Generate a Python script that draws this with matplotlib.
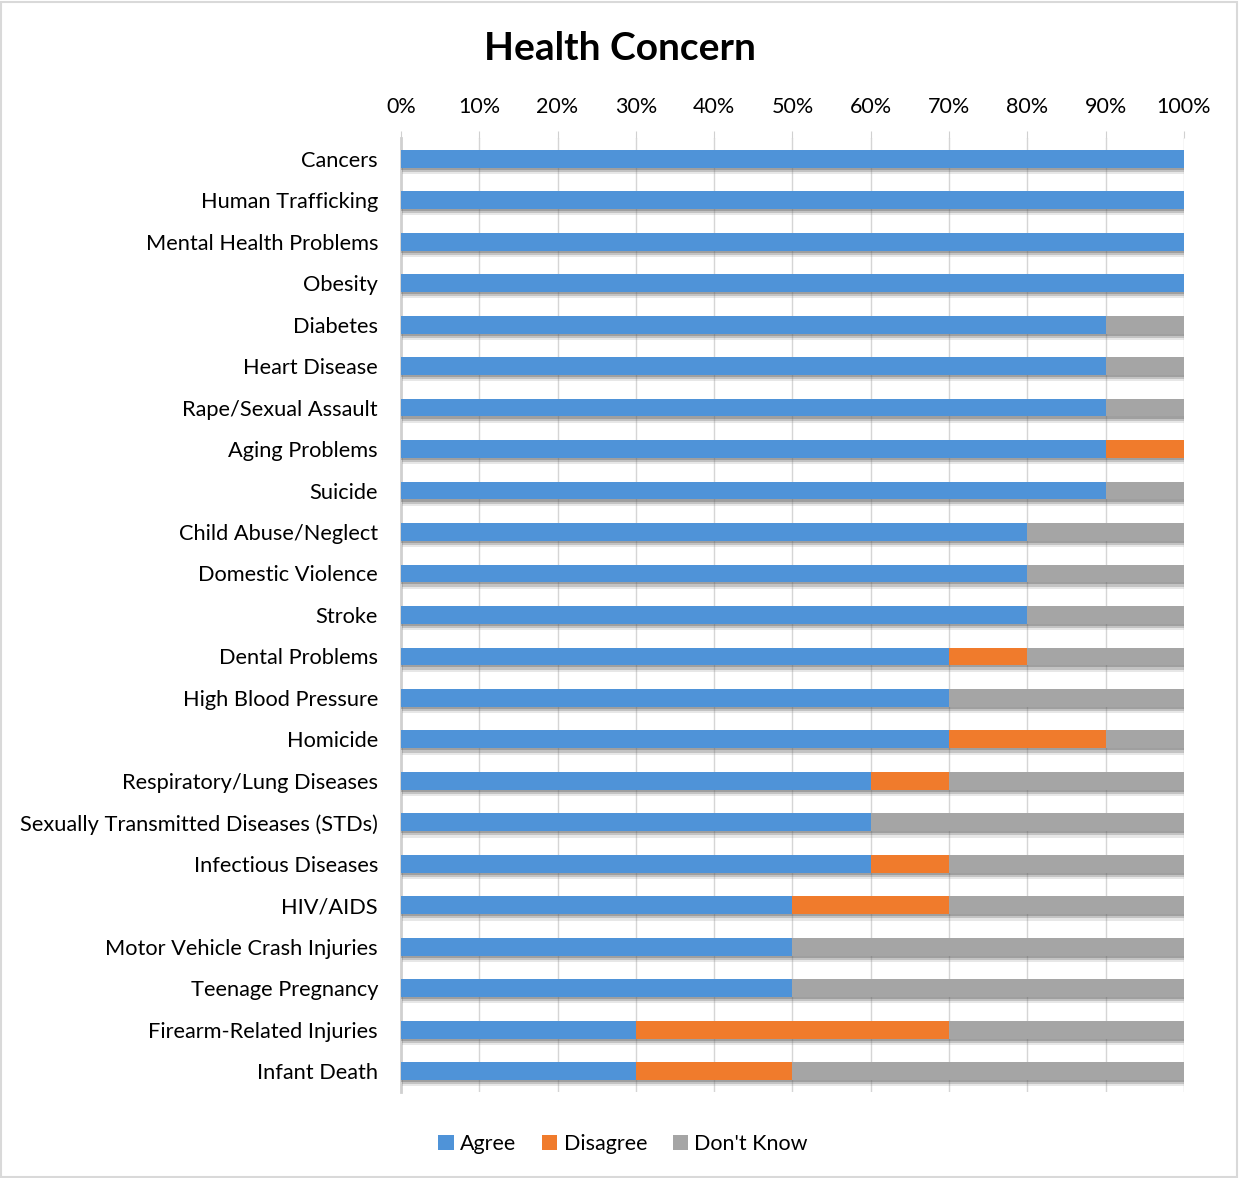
import matplotlib
matplotlib.use("Agg")
import matplotlib.pyplot as plt
import matplotlib.patheffects as pe
from matplotlib.patches import Patch
from matplotlib.ticker import FuncFormatter, MultipleLocator
import numpy as np

plt.rcParams['font.family'] = ['Lato', 'DejaVu Sans']

categories = [
    "Cancers", "Human Trafficking", "Mental Health Problems", "Obesity",
    "Diabetes", "Heart Disease", "Rape/Sexual Assault", "Aging Problems",
    "Suicide", "Child Abuse/Neglect", "Domestic Violence", "Stroke",
    "Dental Problems", "High Blood Pressure", "Homicide",
    "Respiratory/Lung Diseases", "Sexually Transmitted Diseases (STDs)",
    "Infectious Diseases", "HIV/AIDS", "Motor Vehicle Crash Injuries",
    "Teenage Pregnancy", "Firearm-Related Injuries", "Infant Death",
]
agree    = [100, 100, 100, 100, 90, 90, 90, 90, 90, 80, 80, 80, 70, 70, 70, 60, 60, 60, 50, 50, 50, 30, 30]
disagree = [0, 0, 0, 0, 0, 0, 0, 10, 0, 0, 0, 0, 10, 0, 20, 10, 0, 10, 20, 0, 0, 40, 20]
dont_know = [0, 0, 0, 0, 10, 10, 10, 0, 10, 20, 20, 20, 20, 30, 10, 30, 40, 30, 30, 50, 50, 30, 50]

series = [("Agree", agree, "#4F93D8"),
          ("Disagree", disagree, "#F07B2C"),
          ("Don't Know", dont_know, "#A5A5A5")]

fig = plt.figure(figsize=(12.39, 11.78), dpi=100)
ax = fig.add_axes([0.3236, 0.0730, 0.6320, 0.8099])

y = np.arange(len(categories))
left = np.zeros(len(categories))
# soft drop shadow under each bar segment
shadow = [pe.SimplePatchShadow(offset=(1, -4.5), shadow_rgbFace="#888888", alpha=0.2),
          pe.SimplePatchShadow(offset=(0.5, -3), shadow_rgbFace="#666666", alpha=0.28),
          pe.SimplePatchShadow(offset=(0, -1.5), shadow_rgbFace="#555555", alpha=0.32),
          pe.Normal()]
handles = []
for name, vals, color in series:
    vals = np.array(vals, dtype=float)
    ax.barh(y, vals, left=left, height=0.43, color=color, label=name,
            zorder=3, path_effects=shadow)
    handles.append(Patch(facecolor=color, label=name))
    left += vals

ax.set_xlim(0, 100)
ax.set_ylim(len(categories) - 0.5, -0.5)
ax.set_yticks(y)
ax.set_yticklabels(categories, fontsize=15.7)
ax.xaxis.set_major_locator(MultipleLocator(10))
ax.xaxis.set_major_formatter(FuncFormatter(lambda v, p: f"{int(round(v))}%"))
ax.xaxis.tick_top()
ax.tick_params(axis='x', labelsize=15.5, length=5, color="#D0D0D0", pad=10)
ax.tick_params(axis='y', length=0, pad=16.5)
ax.grid(axis='x', color="#D5D5D5", linewidth=1, zorder=0)
for s in ["top", "right", "bottom"]:
    ax.spines[s].set_visible(False)
ax.spines["left"].set_color("#D0D0D0")
ax.spines["left"].set_linewidth(2)

fig.suptitle("Health Concern", x=0.5, y=0.959, va="center", fontsize=28, fontweight="bold")

fig.legend(handles=handles, loc="center", bbox_to_anchor=(0.503, 0.029),
           ncol=3, frameon=False, fontsize=15.5, handlelength=0.7,
           handleheight=0.7, handletextpad=0.3, columnspacing=1.2)

fig.patches.append(plt.Rectangle((0.001, 0.001), 0.997, 0.997, transform=fig.transFigure,
                                 fill=False, edgecolor="#D9D9D9", linewidth=1.5))

fig.savefig("out.png", dpi=100)
